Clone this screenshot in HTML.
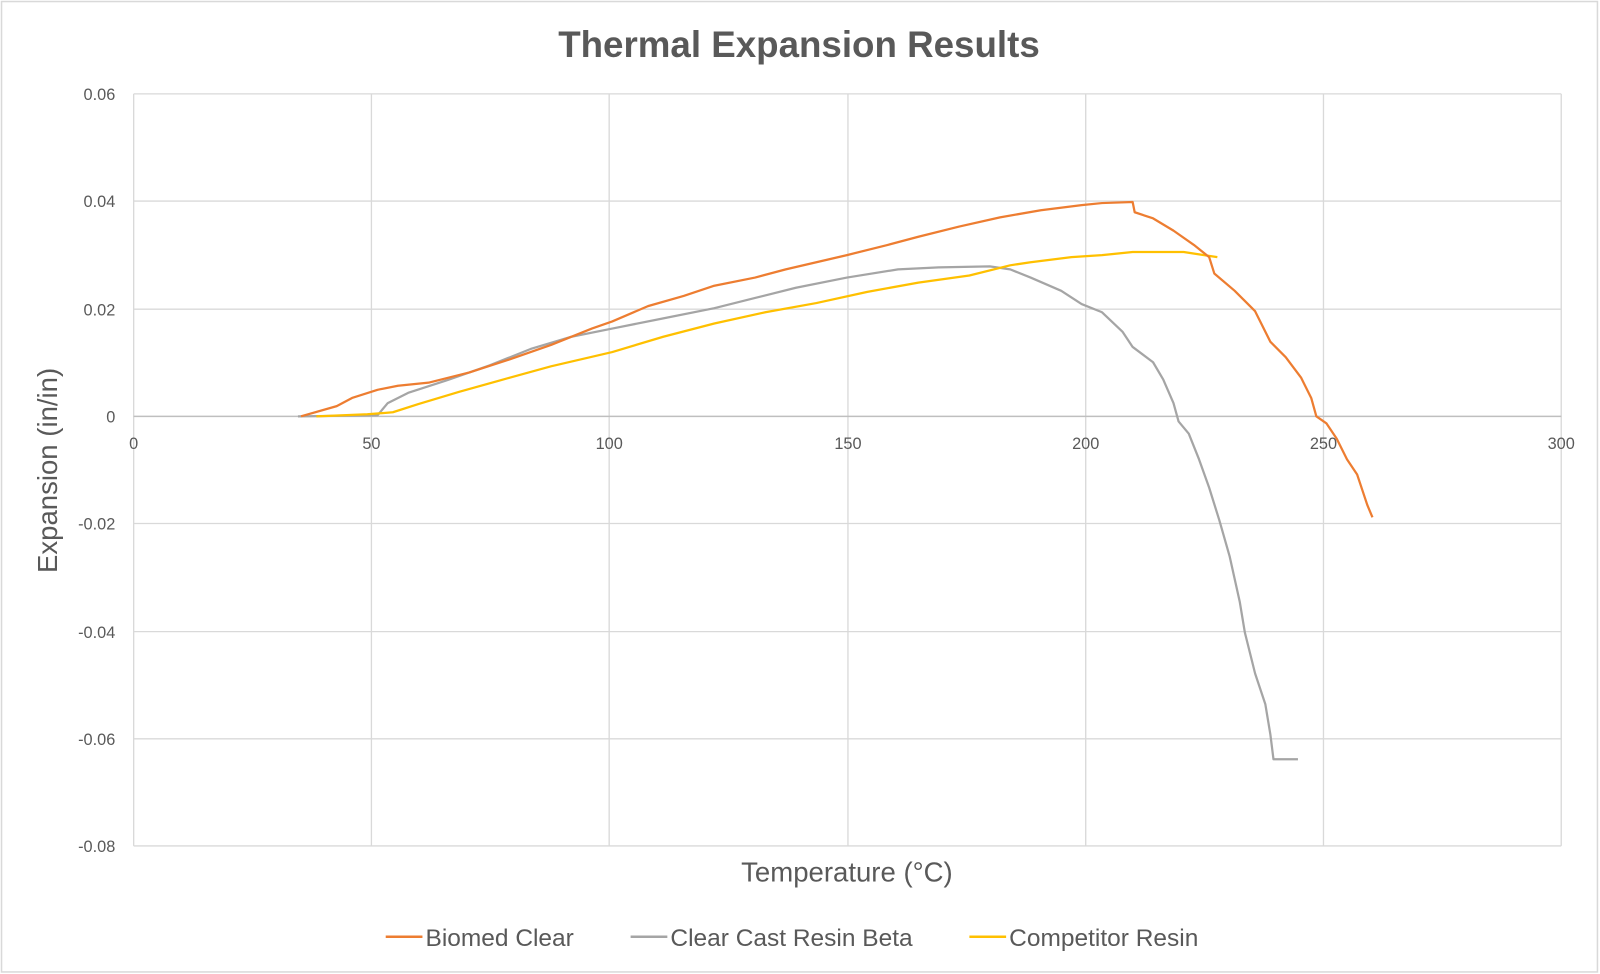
<!DOCTYPE html>
<html><head><meta charset="utf-8"><style>
html,body{margin:0;padding:0;background:#fff;}
svg{display:block;font-family:"Liberation Sans",sans-serif;}
</style></head><body>
<svg width="1600" height="974" viewBox="0 0 1568 954.5" preserveAspectRatio="none" xmlns="http://www.w3.org/2000/svg">
<rect x="1.5" y="1.5" width="1564" height="951" fill="#fff" stroke="#d9d9d9" stroke-width="1.5"/>
<text x="783" y="56" text-anchor="middle" font-size="36" font-weight="bold" fill="#595959">Thermal Expansion Results</text>
<g stroke="#d9d9d9" stroke-width="1.3" fill="none">
<line x1="131" y1="92" x2="1530" y2="92"/>
<line x1="131" y1="197" x2="1530" y2="197"/>
<line x1="131" y1="303" x2="1530" y2="303"/>
<line x1="131" y1="513" x2="1530" y2="513"/>
<line x1="131" y1="619" x2="1530" y2="619"/>
<line x1="131" y1="724" x2="1530" y2="724"/>
<line x1="131" y1="829" x2="1530" y2="829"/>
<line x1="131" y1="92" x2="131" y2="829"/>
<line x1="364" y1="92" x2="364" y2="829"/>
<line x1="597" y1="92" x2="597" y2="829"/>
<line x1="831" y1="92" x2="831" y2="829"/>
<line x1="1064" y1="92" x2="1064" y2="829"/>
<line x1="1297" y1="92" x2="1297" y2="829"/>
<line x1="1530" y1="92" x2="1530" y2="829"/>
</g>
<line x1="131" y1="408" x2="1530" y2="408" stroke="#bfbfbf" stroke-width="1.5"/>
<g font-size="16" fill="#595959" text-anchor="end">
<text x="113" y="98">0.06</text>
<text x="113" y="203">0.04</text>
<text x="113" y="309">0.02</text>
<text x="113" y="414">0</text>
<text x="113" y="519">-0.02</text>
<text x="113" y="625">-0.04</text>
<text x="113" y="730">-0.06</text>
<text x="113" y="835">-0.08</text>
</g>
<g font-size="16" fill="#595959" text-anchor="middle">
<text x="131" y="440">0</text>
<text x="364" y="440">50</text>
<text x="597" y="440">100</text>
<text x="831" y="440">150</text>
<text x="1064" y="440">200</text>
<text x="1297" y="440">250</text>
<text x="1530" y="440">300</text>
</g>
<text x="830" y="864" text-anchor="middle" font-size="27" fill="#595959">Temperature (°C)</text>
<text transform="translate(56,461) rotate(-90)" text-anchor="middle" font-size="27" fill="#595959">Expansion (in/in)</text>
<g fill="none" stroke-width="2.2" stroke-linejoin="round">
<polyline stroke="#A5A5A5" points="292,408 370,407 380,395 400,385 440,372 480,358 520,342 560,330 600,322 650,312 700,302 740,292 780,282 830,272 880,264 920,262 970,261 990,264 1010,272 1040,285 1060,298 1080,306 1100,325 1110,340 1130,355 1140,372 1150,395 1155,413 1165,425 1175,450 1185,478 1195,510 1205,545 1215,590 1220,620 1230,660 1240,690 1245,720 1248,744 1272,744"/>
<polyline stroke="#FFC000" points="310,408 360,406 385,404 410,396 450,384 500,370 540,359 600,345 650,330 700,317 750,306 800,297 850,286 900,277 950,270 990,260 1010,257 1050,252 1080,250 1110,247 1160,247 1193,252"/>
<polyline stroke="#ED7D31" points="295,408 330,398 345,390 370,382 390,378 420,375 460,365 500,352 540,338 580,322 600,315 635,300 670,290 700,280 740,272 770,264 800,257 830,250 870,240 900,232 940,222 980,213 1020,206 1060,201 1080,199 1110,198 1112,208 1130,214 1150,226 1170,240 1185,252 1190,268 1210,285 1230,305 1245,335 1260,350 1275,370 1285,390 1290,408 1300,415 1310,430 1320,450 1330,465 1335,480 1340,495 1345,507"/>
</g>
<g font-size="24" fill="#595959">
<line x1="378" y1="918" x2="414" y2="918" stroke="#ED7D31" stroke-width="2.5"/>
<text x="417" y="927">Biomed Clear</text>
<line x1="618" y1="918" x2="654" y2="918" stroke="#A5A5A5" stroke-width="2.5"/>
<text x="657" y="927">Clear Cast Resin Beta</text>
<line x1="950" y1="918" x2="986" y2="918" stroke="#FFC000" stroke-width="2.5"/>
<text x="989" y="927">Competitor Resin</text>
</g>
</svg>
</body></html>
